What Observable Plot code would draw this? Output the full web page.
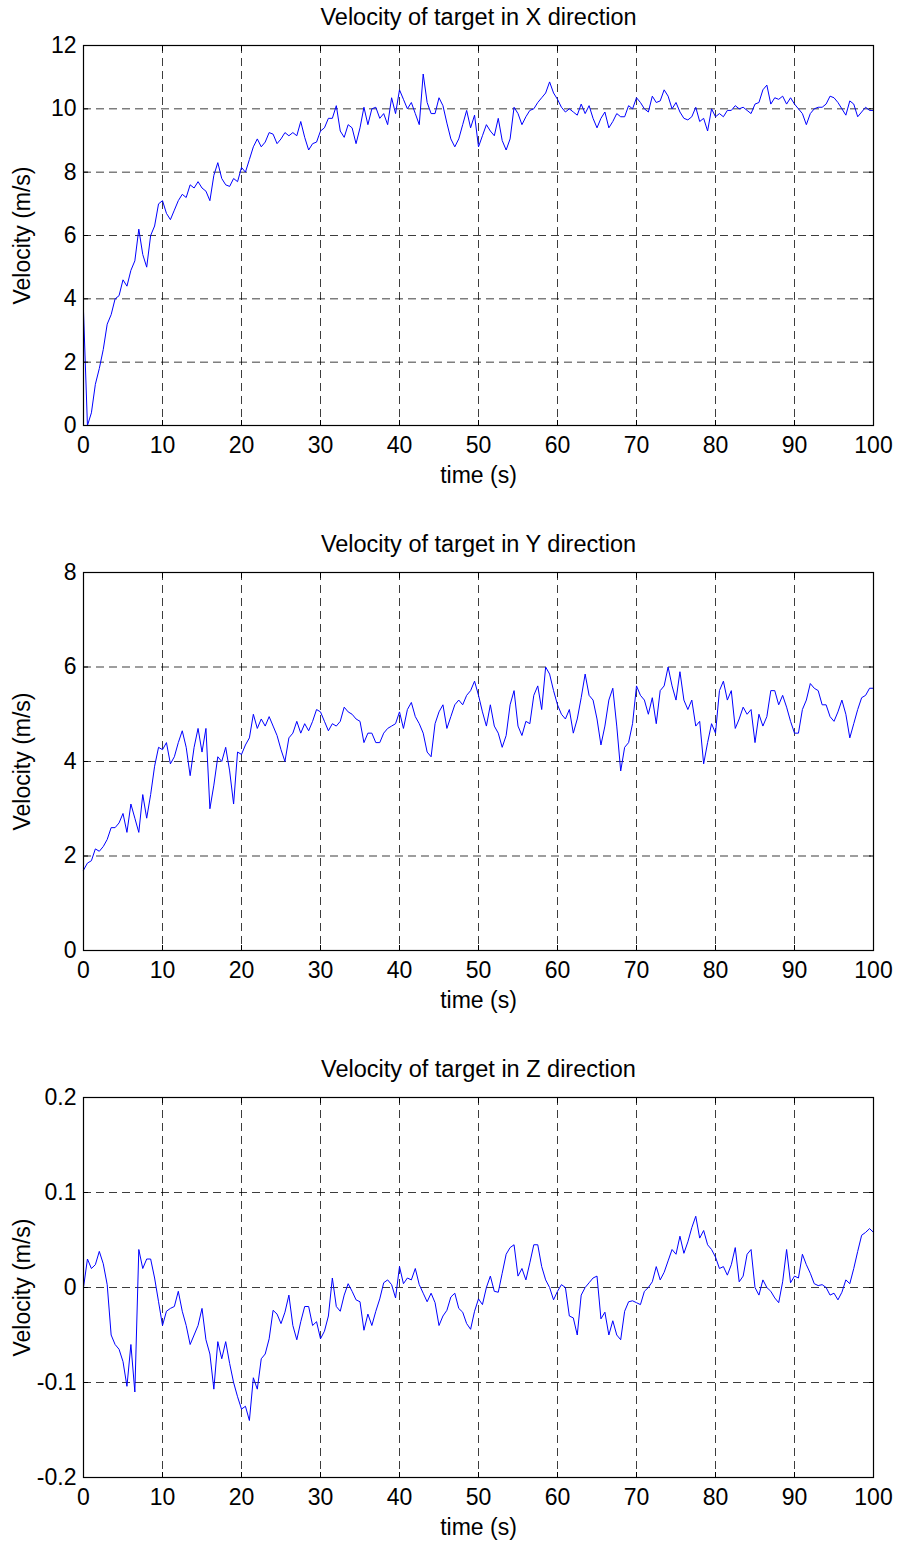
<!DOCTYPE html>
<html>
<head>
<meta charset="utf-8">
<script src="https://cdn.jsdelivr.net/npm/d3@7"></script>
<script src="https://cdn.jsdelivr.net/npm/@observablehq/plot@0.6"></script>
<style>
  html, body { margin: 0; padding: 0; background: #fff; }
  #charts { width: 898px; }
  #charts svg { display: block; }
</style>
</head>
<body>
<div id="charts"></div>
<script>
// ---- data (time sampled every 0.5 s, 0..100 s) ----
const time = d3.range(0, 100.0001, 0.5);

const velX = [
  3.6, 0, 0.4, 1.3, 1.8, 2.4, 3.2, 3.5, 4.0, 4.1,
  4.6, 4.4, 4.9, 5.2, 6.2, 5.4, 5.0, 6.0, 6.3, 7.0,
  7.1, 6.7, 6.5, 6.8, 7.1, 7.3, 7.2, 7.6, 7.5, 7.7,
  7.5, 7.4, 7.1, 7.9, 8.3, 7.8, 7.6, 7.55, 7.8, 7.7,
  8.15, 8.0, 8.4, 8.8, 9.05, 8.8, 8.95, 9.25, 9.2, 8.9,
  9.05, 9.25, 9.15, 9.25, 9.15, 9.6, 9.1, 8.7, 8.9, 8.95,
  9.3, 9.4, 9.7, 9.7, 10.1, 9.3, 9.1, 9.5, 9.4, 8.9,
  9.4, 10.05, 9.5, 10.0, 10.05, 9.7, 9.85, 9.5, 10.35, 9.85,
  10.6, 10.3, 10.0, 10.2, 9.85, 9.5, 11.1, 10.2, 9.85, 9.85,
  10.35, 10.1, 9.55, 9.05, 8.8, 9.05, 9.5, 9.95, 9.4, 9.8,
  8.8, 9.15, 9.5, 9.3, 9.15, 9.7, 9.0, 8.7, 9.05, 10.05,
  9.85, 9.5, 9.75, 9.95, 10.0, 10.2, 10.35, 10.5, 10.85, 10.5,
  10.3, 10.05, 9.9, 10.0, 9.9, 9.8, 10.15, 9.85, 10.1, 9.7,
  9.4, 9.7, 9.9, 9.4, 9.6, 9.85, 9.75, 9.75, 10.1, 10.0,
  10.35, 10.2, 10.0, 9.9, 10.4, 10.2, 10.25, 10.6, 10.4, 10.0,
  10.2, 9.9, 9.7, 9.65, 9.75, 10.05, 9.6, 9.7, 9.3, 10.0,
  9.75, 9.85, 9.75, 9.95, 9.95, 10.1, 10.0, 10.05, 9.95, 9.85,
  10.15, 10.2, 10.6, 10.75, 10.15, 10.35, 10.3, 10.4, 10.15, 10.35,
  10.15, 10.0, 9.85, 9.5, 9.85, 10.0, 10.05, 10.05, 10.15, 10.4,
  10.35, 10.2, 10.0, 9.8, 10.25, 10.15, 9.75, 9.9, 10.05, 9.95,
  9.95
];

const velY = [
  1.7, 1.85, 1.9, 2.15, 2.1, 2.2, 2.35, 2.6, 2.6, 2.7,
  2.9, 2.5, 3.1, 2.8, 2.5, 3.3, 2.8, 3.3, 3.9, 4.3,
  4.25, 4.4, 3.95, 4.1, 4.4, 4.65, 4.3, 3.7, 4.3, 4.7,
  4.2, 4.7, 3.0, 3.5, 4.1, 4.0, 4.3, 3.8, 3.1, 4.2,
  4.15, 4.35, 4.5, 5.0, 4.7, 4.9, 4.75, 4.95, 4.75, 4.55,
  4.25, 4.0, 4.5, 4.6, 4.85, 4.6, 4.8, 4.65, 4.85, 5.1,
  5.05, 4.85, 4.65, 4.8, 4.75, 4.85, 5.15, 5.05, 5.0, 4.9,
  4.85, 4.4, 4.6, 4.6, 4.4, 4.4, 4.6, 4.7, 4.75, 4.8,
  5.05, 4.7, 5.1, 5.25, 4.95, 4.8, 4.6, 4.2, 4.1, 4.8,
  5.05, 5.2, 4.7, 4.95, 5.2, 5.3, 5.2, 5.4, 5.5, 5.7,
  5.4, 5.05, 4.75, 5.2, 4.75, 4.6, 4.3, 4.55, 5.2, 5.5,
  4.75, 4.55, 4.85, 4.8, 5.4, 5.6, 5.1, 6.0, 5.85, 5.5,
  5.2, 5.0, 4.9, 5.1, 4.6, 4.9, 5.35, 5.85, 5.4, 5.3,
  4.9, 4.35, 4.75, 5.3, 5.55, 4.75, 3.8, 4.3, 4.4, 4.8,
  5.6, 5.4, 5.3, 5.0, 5.35, 4.8, 5.5, 5.6, 6.0, 5.6,
  5.3, 5.9, 5.3, 5.1, 5.3, 4.75, 4.85, 3.95, 4.4, 4.8,
  4.6, 5.5, 5.7, 5.3, 5.5, 4.7, 4.9, 5.15, 5.0, 5.1,
  4.4, 5.0, 4.75, 4.95, 5.5, 5.5, 5.2, 5.4, 5.15, 4.85,
  4.6, 4.6, 5.1, 5.3, 5.65, 5.55, 5.5, 5.2, 5.2, 4.95,
  4.85, 5.05, 5.3, 5.0, 4.5, 4.8, 5.1, 5.35, 5.4, 5.55,
  5.55
];

const velZ = [
  0.0, 0.03, 0.02, 0.024, 0.038, 0.025, 0.003, -0.05, -0.06, -0.065,
  -0.078, -0.104, -0.06, -0.11, 0.04, 0.02, 0.03, 0.03, 0.01, -0.015,
  -0.04, -0.025, -0.022, -0.02, -0.004, -0.025, -0.04, -0.06, -0.05, -0.04,
  -0.022, -0.055, -0.07, -0.107, -0.057, -0.075, -0.057, -0.08, -0.1, -0.115,
  -0.128, -0.125, -0.14, -0.095, -0.107, -0.075, -0.07, -0.054, -0.024, -0.028,
  -0.038, -0.026, -0.008, -0.04, -0.055, -0.036, -0.02, -0.02, -0.04, -0.036,
  -0.054, -0.046, -0.03, 0.01, -0.02, -0.025, -0.008, 0.004, -0.004, -0.013,
  -0.015, -0.045, -0.028, -0.04, -0.025, -0.012, 0.005, 0.008, 0.003, -0.011,
  0.022, 0.004, 0.01, 0.008, 0.02, 0.003, -0.006, -0.015, -0.006, -0.016,
  -0.04, -0.03, -0.024, -0.01, -0.006, -0.022, -0.026, -0.038, -0.044, -0.025,
  -0.012, -0.018, 0.0, 0.012, -0.004, -0.005, 0.015, 0.035, 0.042, 0.045,
  0.012, 0.02, 0.008, 0.026, 0.045, 0.045, 0.022, 0.008, 0.0, -0.013,
  -0.004, 0.003, 0.0, -0.03, -0.032, -0.05, -0.008, 0.0, 0.005, 0.01,
  0.012, -0.033, -0.026, -0.05, -0.035, -0.05, -0.055, -0.025, -0.015, -0.014,
  -0.016, -0.018, -0.004, 0.0, 0.006, 0.022, 0.008, 0.016, 0.028, 0.04,
  0.035, 0.054, 0.036, 0.048, 0.063, 0.075, 0.052, 0.06, 0.045, 0.04,
  0.032, 0.02, 0.022, 0.013, 0.024, 0.042, 0.006, 0.012, 0.035, 0.04,
  0.0, -0.008, 0.008, 0.0, -0.004, -0.011, -0.016, 0.006, 0.04, 0.005,
  0.012, 0.01, 0.035, 0.024, 0.015, 0.004, 0.002, 0.003, 0.0, -0.008,
  -0.006, -0.013, -0.005, 0.008, 0.004, 0.02, 0.038, 0.055, 0.058, 0.062,
  0.058
];

const titles = [
  "Velocity of target in X direction",
  "Velocity of target in Y direction",
  "Velocity of target in Z direction"
];
const xLabel = "time (s)";
const yLabel = "Velocity (m/s)";
const xTicks = [0, 10, 20, 30, 40, 50, 60, 70, 80, 90, 100];
const yTicksX = [0, 2, 4, 6, 8, 10, 12];
const yTicksY = [0, 2, 4, 6, 8];
const yTicksZ = [-0.2, -0.1, 0, 0.1, 0.2];
const yTickLabelsZ = ["-0.2", "-0.1", "0", "0.1", "0.2"];

// ---- drawing ----
const FONT = "'Liberation Sans', Arial, Helvetica, sans-serif";
const FS = 23;
const FS_TITLE = 23.5;
const dash = "8,5";

function panel({values, title, yTicks, yFormat, height, marginTop, marginBottom}) {
  const data = time.map((t, i) => ({t, v: values[i]})).filter(d => d.v !== undefined);
  return Plot.plot({
    width: 898,
    height,
    marginLeft: 83,
    marginRight: 25,
    marginTop,
    marginBottom,
    style: {fontFamily: FONT, fontSize: FS + "px", color: "#000", background: "#fff", overflow: "visible"},
    x: {domain: [0, 100], axis: null},
    y: {domain: [yTicks[0], yTicks[yTicks.length - 1]], axis: null},
    marks: [
      Plot.ruleX(xTicks, {stroke: "#000", strokeWidth: 0.9, strokeDasharray: dash, strokeOpacity: 0.85}),
      Plot.ruleY(yTicks, {stroke: "#000", strokeWidth: 0.9, strokeDasharray: dash, strokeOpacity: 0.85}),
      Plot.line(data, {x: "t", y: "v", stroke: "#0000ff", strokeWidth: 1}),
      Plot.frame({stroke: "#000", strokeWidth: 1.2}),
      Plot.axisX({anchor: "bottom", ticks: xTicks, tickSize: -5, tickPadding: 16, label: null, fontSize: FS, tickFormat: d => String(d)}),
      Plot.axisX({anchor: "top", ticks: xTicks, tickSize: -5, label: null, tickFormat: () => ""}),
      Plot.axisY({anchor: "left", ticks: yTicks, tickSize: -5, tickPadding: 12, label: null, fontSize: FS, tickFormat: yFormat}),
      Plot.axisY({anchor: "right", ticks: yTicks, tickSize: -5, label: null, tickFormat: () => ""}),
      Plot.text([title], {frameAnchor: "top", dy: -28, fontSize: FS_TITLE, lineAnchor: "middle", textAnchor: "middle"}),
      Plot.text([xLabel], {frameAnchor: "bottom", dy: 50, fontSize: FS, lineAnchor: "middle", textAnchor: "middle"}),
      Plot.text([yLabel], {frameAnchor: "left", dx: -61, rotate: -90, fontSize: FS, lineAnchor: "middle", textAnchor: "middle"})
    ]
  });
}

const root = document.getElementById("charts");
root.appendChild(panel({values: velX, title: titles[0], yTicks: yTicksX, yFormat: d => String(d), height: 526, marginTop: 45, marginBottom: 101}));
root.appendChild(panel({values: velY, title: titles[1], yTicks: yTicksY, yFormat: d => String(d), height: 525, marginTop: 46, marginBottom: 101}));
root.appendChild(panel({values: velZ, title: titles[2], yTicks: yTicksZ, yFormat: d => yTickLabelsZ[yTicksZ.indexOf(d)], height: 491, marginTop: 46, marginBottom: 65}));
</script>
</body>
</html>
